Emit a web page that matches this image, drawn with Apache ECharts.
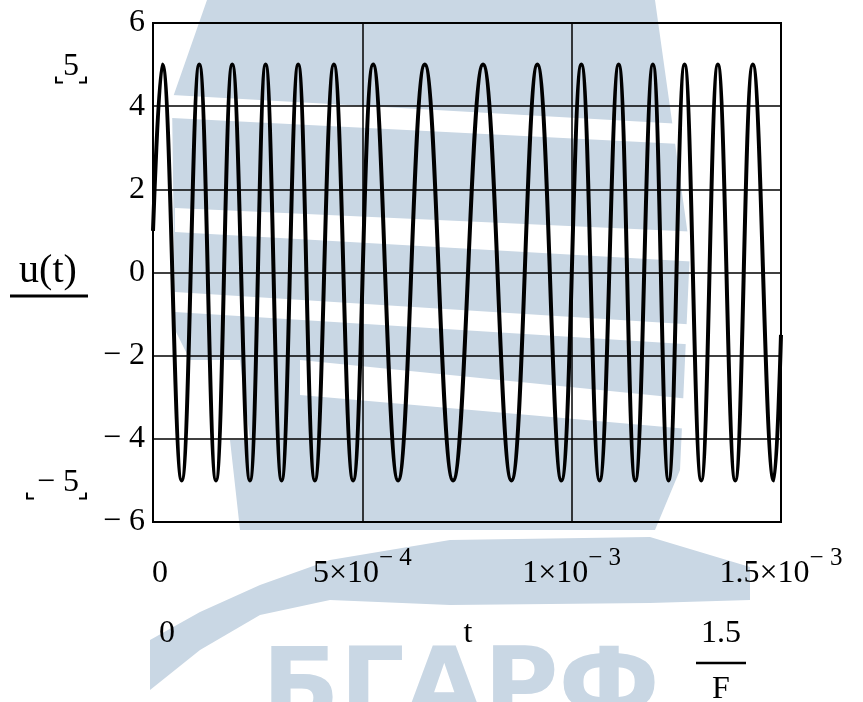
<!DOCTYPE html>
<html><head><meta charset="utf-8">
<script src="https://cdn.jsdelivr.net/npm/echarts@6/dist/echarts.min.js"></script>
<style>html,body{margin:0;padding:0;background:#fff}#c{width:863px;height:702px}</style>
</head><body><div id="c"></div>
<script>
// ---- data ----
// time samples (s) at the start, at each extremum and at the end of the trace
const tValues = [0, 22.2e-6, 68.5e-6, 110.5e-6, 150.4e-6, 189.3e-6, 231.5e-6, 269.0e-6, 307.2e-6,
  346.8e-6, 386.6e-6, 432.0e-6, 478.0e-6, 525.8e-6, 585.4e-6, 649.2e-6, 716.7e-6, 788.3e-6,
  856.1e-6, 918.1e-6, 975.4e-6, 1023.1e-6, 1066.8e-6, 1112.2e-6, 1152.0e-6, 1194.0e-6,
  1231.5e-6, 1269.7e-6, 1309.5e-6, 1349.2e-6, 1390.7e-6, 1432.7e-6, 1482.8e-6, 1500e-6];
const uValues = [1.0, 5, -5, 5, -5, 5, -5, 5, -5, 5, -5, 5, -5, 5, -5, 5, -5, 5, -5, 5, -5,
  5, -5, 5, -5, 5, -5, 5, -5, 5, -5, 5, -5, -1.5];
const xTickMain = ['0', '5×10', '1×10', '1.5×10'];
const xTickExp = ['', '− 4', '− 3', '− 3'];
const yMarkers = [5, -5];
const yMarkerText = ['5', '− 5'];
const traceName = 'u(t)';
const xVarName = 't';
const xLimitLow = '0';
const xLimitHighNum = '1.5';
const xLimitHighDen = 'F';
const watermarkText = 'БГАРФ';

const FONT = "'Liberation Serif','Times New Roman',serif";
const chart = echarts.init(document.getElementById('c'), null, {renderer: 'canvas'});
const data = tValues.map((t, i) => [t, uValues[i]]);

chart.setOption({
  animation: false,
  backgroundColor: '#fff',
  grid: {left: 153, right: 82, top: 23, bottom: 180, show: true, borderColor: '#000', borderWidth: 2, backgroundColor: 'transparent', z: 3},
  xAxis: {
    type: 'value', min: 0, max: 0.0015, interval: 0.0005,
    axisLine: {show: false}, axisTick: {show: false},
    splitLine: {show: true, lineStyle: {color: '#000', width: 1.5}},
    axisLabel: {
      margin: 24,
      showMinLabel: true, showMaxLabel: true,
      formatter: function (v) {
        const i = Math.round(v / 0.0005);
        if (!xTickExp[i]) return '{z|' + xTickMain[i] + '}';
        return '{m|' + xTickMain[i] + '}{e|' + xTickExp[i] + '}';
      },
      rich: {
        z: {fontFamily: FONT, fontSize: 32, color: '#000', lineHeight: 44, verticalAlign: 'bottom', padding: [0, 0, 0, 14]},
        m: {fontFamily: FONT, fontSize: 32, color: '#000', lineHeight: 44, verticalAlign: 'bottom'},
        e: {fontFamily: FONT, fontSize: 25, color: '#000', lineHeight: 24, verticalAlign: 'top'}
      }
    }
  },
  yAxis: {
    type: 'value', min: -6, max: 6, interval: 2,
    axisLine: {show: false}, axisTick: {show: false},
    splitLine: {show: true, lineStyle: {color: '#000', width: 1.5}},
    axisLabel: {
      margin: 8, fontFamily: FONT, fontSize: 32, color: '#000',
      formatter: v => v < 0 ? '− ' + Math.abs(v) : String(v)
    }
  },
  series: [{
    name: traceName, type: 'line', data: data, showSymbol: false, smooth: 0.42,
    lineStyle: {color: '#000', width: 4}, z: 5
  }]
});

// decorations positioned through the chart's own scales
const wm = '#c9d7e4';
const g = [];
// watermark (logo-like shapes)
g.push({type: 'polygon', z: -10, silent: true, shape: {points: [[207,0],[655,0],[690,250],[680,470],[655,530],[240,530],[230,440],[175,330],[172,100]]}, style: {fill: wm}});
[[[172,95],[700,125],[700,145],[172,118]], [[175,208],[700,232],[700,262],[175,232]], [[175,292],[700,325],[700,345],[175,312]], [[150,360],[240,360],[250,440],[150,440]], [[300,360],[700,400],[700,430],[300,395]]].forEach(p => {
  g.push({type: 'polygon', z: -9, silent: true, shape: {points: p}, style: {fill: '#fff'}});
});
g.push({type: 'polygon', z: -10, silent: true, shape: {points: [[150,640],[200,612],[260,585],[330,560],[450,540],[650,537],[750,567],[750,600],[650,603],[450,605],[330,600],[260,615],[200,650],[150,690]]}, style: {fill: wm}});
g.push({type: 'text', z: -10, silent: true, style: {text: watermarkText, x: 262, y: 744, fontSize: 102, fontWeight: 'bold', fontFamily: "'DejaVu Sans',sans-serif", fill: wm, verticalAlign: 'bottom'}});

// trace legend (name with line sample under it)
g.push({type: 'text', style: {text: traceName, x: 48, y: 271, fontSize: 40, fontFamily: FONT, fill: '#000', align: 'center', verticalAlign: 'middle'}});
g.push({type: 'line', shape: {x1: 10, y1: 296, x2: 88, y2: 296}, style: {stroke: '#000', lineWidth: 3}});

// y markers
yMarkers.forEach((v, i) => {
  const py = chart.convertToPixel({gridIndex: 0}, [0, v])[1] + 2;
  const leftX = yMarkerText[i].length > 1 ? 27 : 56;
  g.push({type: 'text', style: {text: yMarkerText[i], x: 79, y: py, fontSize: 32, fontFamily: FONT, fill: '#000', align: 'right', verticalAlign: 'middle'}});
  g.push({type: 'polyline', shape: {points: [[leftX, py + 10], [leftX, py + 16], [leftX + 7, py + 16]]}, style: {stroke: '#000', lineWidth: 2, fill: null}});
  g.push({type: 'polyline', shape: {points: [[79, py + 16], [86, py + 16], [86, py + 10]]}, style: {stroke: '#000', lineWidth: 2, fill: null}});
});

// x-axis limits and variable
const x0 = chart.convertToPixel({gridIndex: 0}, [0, 0])[0];
const xMid = chart.convertToPixel({gridIndex: 0}, [0.00075, 0])[0];
g.push({type: 'text', style: {text: xLimitLow, x: x0 + 14, y: 634, fontSize: 32, fontFamily: FONT, fill: '#000', align: 'center', verticalAlign: 'middle'}});
g.push({type: 'text', style: {text: xVarName, x: xMid + 1, y: 634, fontSize: 32, fontFamily: FONT, fill: '#000', align: 'center', verticalAlign: 'middle'}});
g.push({type: 'text', style: {text: xLimitHighNum, x: 721, y: 634, fontSize: 32, fontFamily: FONT, fill: '#000', align: 'center', verticalAlign: 'middle'}});
g.push({type: 'line', shape: {x1: 696, y1: 663, x2: 746, y2: 663}, style: {stroke: '#000', lineWidth: 2.5}});
g.push({type: 'text', style: {text: xLimitHighDen, x: 721, y: 690, fontSize: 32, fontFamily: FONT, fill: '#000', align: 'center', verticalAlign: 'middle'}});

chart.setOption({graphic: g});
</script>
</body></html>
